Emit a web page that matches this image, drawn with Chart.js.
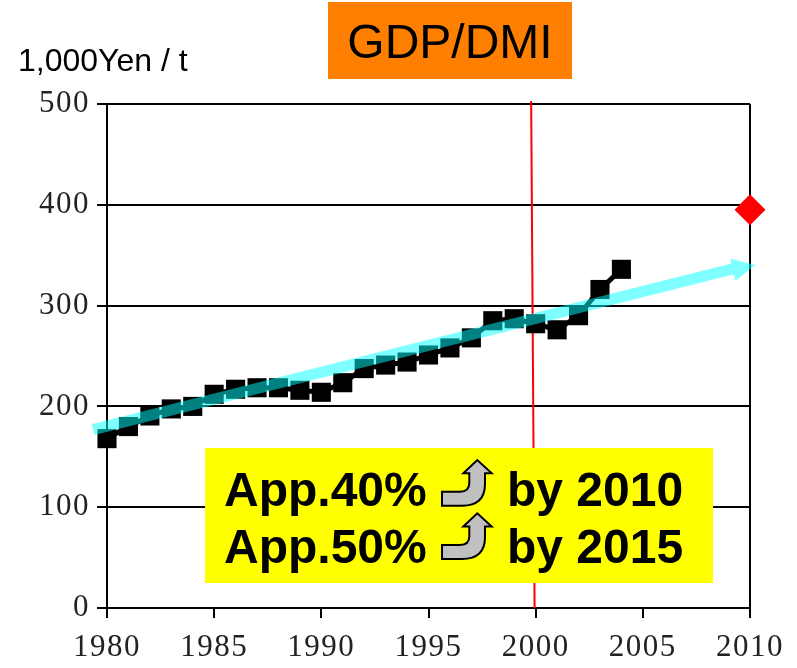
<!DOCTYPE html>
<html><head><meta charset="utf-8">
<style>html,body{margin:0;padding:0;background:#fff}#w{position:relative;width:797px;height:668px}</style>
<script src="https://cdn.jsdelivr.net/npm/chart.js@4"></script></head>
<body><div id="w"><canvas id="c" width="797" height="668"></canvas></div>
<script>
const years=[1980,1981,1982,1983,1984,1985,1986,1987,1988,1989,1990,1991,1992,1993,1994,1995,1996,1997,1998,1999,2000,2001,2002,2003,2004];
const gdpDmi=[168,180,190.5,197.5,200,212,217,218.5,218.5,216,214,223.5,237.5,241,244,251,258,268,285,287,282,276,290,316,336];
const targetX=[2010];
const targetY=[395];
const trendX=[1979.35,2009.2];
const trendY=[177,336.5];
const redLineX=[1999.79,1999.95];
const redLineY=[503,0];
const xTicks=[1980,1985,1990,1995,2000,2005,2010];
const yTicks=[0,100,200,300,400,500];
const titleText='GDP/DMI';
const unitText='1,000Yen / t';
const noteLines=[['App.40%','by 2010'],['App.50%','by 2015']];
const zip=(a,b)=>a.map((x,i)=>({x,y:b[i]}));
const head={id:'head',afterDatasetsDraw(c){
  const g=c.ctx,tx=c.scales.x.getPixelForValue(trendX[1]),ty=c.scales.y.getPixelForValue(trendY[1]);
  g.save();g.fillStyle='rgba(0,255,255,0.5)';g.beginPath();
  g.moveTo(tx+22.5,ty-3.8);g.lineTo(tx-2.5,ty-10);g.lineTo(tx+2.5,ty+12.2);g.closePath();g.fill();g.restore();
}};
const texts={id:'texts',afterDraw(c){
  const g=c.ctx;g.save();g.letterSpacing='0px';
  g.textBaseline='alphabetic';g.textAlign='left';
  g.fillStyle='#ff8000';g.fillRect(328,2,244,77);
  g.fillStyle='#000';g.font='48px "Liberation Sans"';g.textAlign='center';g.fillText(titleText,450,58);
  g.textAlign='left';g.font='32px "Liberation Sans"';g.fillText(unitText,18,71);
  g.fillStyle='#ffff00';g.fillRect(205,448,508,135);
  noteLines.forEach((l,i)=>{
   const d=i*56.5;
   g.fillStyle='#000';g.font='bold 48px "Liberation Sans"';
   g.fillText(l[0],224,506+d);g.fillText(l[1],507,506+d);
   const o=i*53.3;
   g.beginPath();g.moveTo(442,491.7+o);g.lineTo(460,491.7+o);
   g.quadraticCurveTo(469.3,491.7+o,469.3,483+o);g.lineTo(469.3,473.3+o);g.lineTo(463.3,473.3+o);
   g.lineTo(477.3,460+o);g.lineTo(491.7,473.3+o);g.lineTo(485,473.3+o);g.lineTo(485,484+o);
   g.quadraticCurveTo(485,505.7+o,462,505.7+o);g.lineTo(442,505.7+o);g.closePath();
   g.fillStyle='#c0c0c0';g.fill();g.strokeStyle='#000';g.lineWidth=2;g.stroke();
  });
  g.restore();
}};
new Chart(document.getElementById('c'),{type:'line',
 data:{datasets:[
  {label:'Trend',data:zip(trendX,trendY),borderColor:'rgba(0,255,255,0.5)',borderWidth:11,pointRadius:0,order:1,clip:false,borderCapStyle:'butt'},
  {label:'GDP/DMI',data:zip(years,gdpDmi),borderColor:'#000',backgroundColor:'#000',borderWidth:5,pointStyle:'rect',pointRadius:13.5,pointBorderWidth:0,order:2,clip:false},
  {label:'Target',data:zip(targetX,targetY),showLine:false,backgroundColor:'#ff0000',borderColor:'#ff0000',pointStyle:'rectRot',pointRadius:15.5,pointBorderWidth:0,order:3,clip:false},
  {label:'2000',data:zip(redLineX,redLineY),borderColor:'#ff0000',borderWidth:2,pointRadius:0,order:4,clip:false}
 ]},
 options:{responsive:false,animation:false,events:[],
  layout:{padding:{top:104,right:47,left:0,bottom:0}},
  plugins:{legend:{display:false},title:{display:false},tooltip:{enabled:false}},
  scales:{
   x:{type:'linear',min:1980,max:2010,afterFit(s){s.height=60;},afterBuildTicks(s){s.ticks=xTicks.map(v=>({value:v}));},
    border:{color:'#000',width:2},
    grid:{color:ctx=>ctx.tick&&ctx.tick.value===2010?'#000':'rgba(0,0,0,0)',lineWidth:2,tickColor:'#000',tickLength:10,tickWidth:2},
    ticks:{autoSkip:false,maxRotation:0,padding:11,color:'#222',font:{family:'"Liberation Serif"',size:31},callback:v=>String(v)}},
   y:{type:'linear',min:0,max:500,afterFit(s){s.width=107;},afterBuildTicks(s){s.ticks=yTicks.map(v=>({value:v}));},
    border:{color:'#000',width:2},
    grid:{color:'#000',lineWidth:2,tickColor:'#000',tickLength:10,tickWidth:2},
    ticks:{padding:7,color:'#222',font:{family:'"Liberation Serif"',size:31},callback:v=>String(v)}}
  }},
 plugins:[{id:'spacing',beforeDraw(c){c.ctx.letterSpacing='1.5px';}},head,texts]
});
</script></body></html>
